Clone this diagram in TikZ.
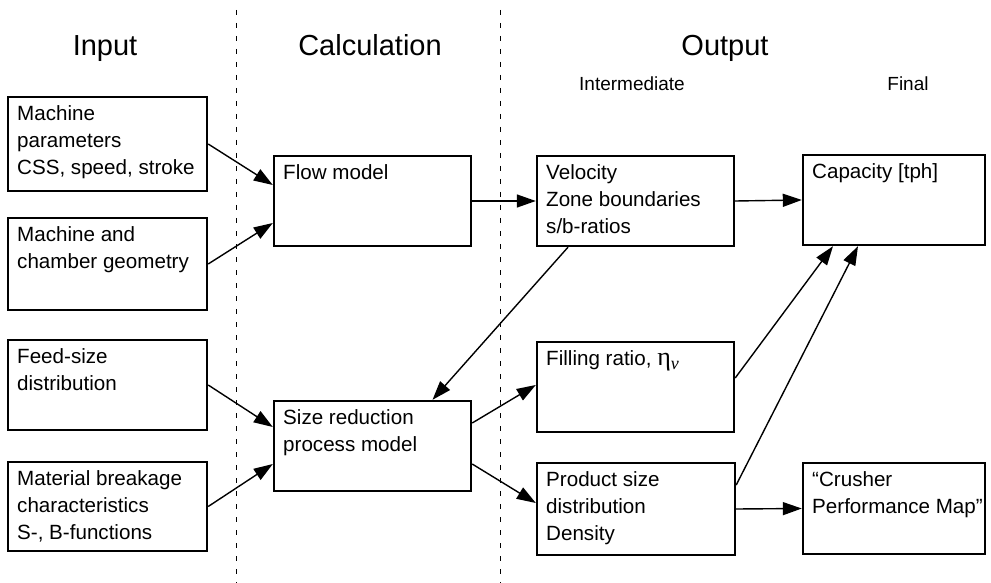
\documentclass[tikz,border=0pt]{standalone}
\usepackage{fontspec}
\setmainfont{Liberation Sans}
\newfontfamily\grkfont{Liberation Serif}
\usetikzlibrary{arrows.meta}
\usetikzlibrary{positioning}

\tikzset{
  blk/.style={draw,line width=1.2pt,inner sep=0pt},
  txt/.style={anchor=north west,inner xsep=5pt,inner ysep=4.5pt,align=left,
    font=\fontsize{10.3}{13.5}\selectfont},
  arr/.style={line width=0.7pt,-{Triangle[length=9.5pt,width=6.5pt]}},
  sep/.style={line width=0.5pt,dash pattern=on 2.5pt off 4pt},
  head/.style={anchor=base,font=\fontsize{14.5}{16}\selectfont},
  sub/.style={anchor=base,font=\fontsize{9.5}{11}\selectfont}
}

\begin{document}
\begin{tikzpicture}[x=0.5pt,y=-0.5pt]
\useasboundingbox (0,0) rectangle (991,583);

\draw[sep] (236,10) -- (236,583);
\draw[sep] (500,10) -- (500,583);

\node[head] (hin) at (105,56) {Input};
\node[head] (hcalc) at (370,56) {Calculation};
\node[head] (hout) at (725,56) {Output};
\node[sub] (hmid) at (632,91) {Intermediate};
\node[sub] (hfin) at (908,91) {Final};

\node[blk,minimum width=99.5pt,minimum height=47pt,label={[txt]north west:Machine\\parameters\\CSS, speed, stroke}] (mpar) at (107.5,144) {};
\node[blk,minimum width=99.5pt,minimum height=46pt,label={[txt]north west:Machine and\\chamber geometry}] (mgeo) at (107.5,264) {};
\node[blk,minimum width=99.5pt,minimum height=45pt,label={[txt]north west:Feed-size\\distribution}] (feed) at (107.5,385) {};
\node[blk,minimum width=99.5pt,minimum height=44.5pt,label={[txt]north west:Material breakage\\characteristics\\S-, B-functions}] (brk) at (107.5,506.5) {};

\node[blk,minimum width=98.5pt,minimum height=45pt,label={[txt]north west:Flow model}] (flow) at (372.5,201) {};
\node[blk,minimum width=98.5pt,minimum height=45pt,label={[txt]north west:Size reduction\\process model}] (sred) at (372.5,446) {};

\node[blk,minimum width=98.5pt,minimum height=45pt,label={[txt]north west:Velocity\\Zone boundaries\\s/b-ratios}] (vel) at (635.5,201) {};
\node[blk,minimum width=98.5pt,minimum height=45pt,label={[txt]north west:Filling ratio, {\grkfont\fontsize{13}{13.5}\selectfont η}\raisebox{-2pt}{\grkfont\itshape\fontsize{9}{10}\selectfont v}}] (fill) at (635.5,387) {};
\node[blk,minimum width=99pt,minimum height=46pt,label={[txt]north west:Product size\\distribution\\Density}] (prod) at (636,509) {};

\node[blk,minimum width=91pt,minimum height=45pt,label={[txt]north west:Capacity [tph]}] (cap) at (894,200) {};
\node[blk,minimum width=91pt,minimum height=45.5pt,label={[txt]north west:“Crusher\\Performance Map”}] (pmap) at (894,508.5) {};

\draw[arr] (mpar.east) -- ([yshift=8pt]flow.west);
\draw[arr] (mgeo.east) -- ([yshift=-11pt]flow.west);
\draw[arr] (feed.east) -- ([yshift=9.5pt]sred.west);
\draw[arr] (brk.east) -- ([yshift=-9pt]sred.west);
\draw[arr] (flow.east) -- (vel.west);
\draw[arr] ([xshift=-33.75pt]vel.south) -- ([xshift=30pt]sred.north);
\draw[arr] ([yshift=11.5pt]sred.east) -- ([yshift=1pt]fill.west);
\draw[arr] ([yshift=-9pt]sred.east) -- ([yshift=3pt]prod.west);
\draw[arr] (vel.east) -- (cap.west);
\draw[arr] ([yshift=4.5pt]fill.east) -- ([xshift=-30.5pt]cap.south);
\draw[arr] ([yshift=12pt]prod.east) -- ([xshift=-18pt]cap.south);
\draw[arr] (prod.east) -- (pmap.west);

\end{tikzpicture}
\end{document}
